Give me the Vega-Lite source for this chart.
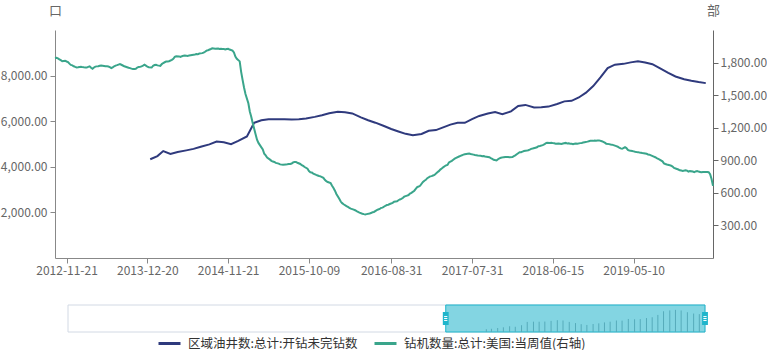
{
"$schema": "https://vega.github.io/schema/vega-lite/v6.json",
"padding": {"left": 0, "top": 4, "right": 0, "bottom": 0},
"config": {"view": {"stroke": null}, "font": "Noto Sans CJK SC"},
"spacing": 28,
"datasets": {
"slider": [{"part": "range", "start": 0, "end": 100}, {"part": "window", "start": 59.3, "end": 100}],
"main": [
{"date":"2012-09-28","rigs":1842},{"date":"2012-10-05","rigs":1845},{"date":"2012-10-12","rigs":1838},{"date":"2012-10-19","rigs":1830},{"date":"2012-10-26","rigs":1822},{"date":"2012-11-02","rigs":1812},{"date":"2012-11-09","rigs":1815},{"date":"2012-11-16","rigs":1817},{"date":"2012-11-21","rigs":1810},{"date":"2012-11-30","rigs":1805},{"date":"2012-12-07","rigs":1790},{"date":"2012-12-14","rigs":1778},{"date":"2012-12-21","rigs":1774},{"date":"2012-12-28","rigs":1766},
{"date":"2013-01-04","rigs":1760},{"date":"2013-01-11","rigs":1755},{"date":"2013-01-18","rigs":1757},{"date":"2013-01-25","rigs":1760},{"date":"2013-02-01","rigs":1762},{"date":"2013-02-08","rigs":1758},{"date":"2013-02-15","rigs":1756},{"date":"2013-02-22","rigs":1755},{"date":"2013-03-01","rigs":1754},{"date":"2013-03-08","rigs":1760},{"date":"2013-03-15","rigs":1765},{"date":"2013-03-22","rigs":1752},{"date":"2013-03-29","rigs":1743},{"date":"2013-04-05","rigs":1755},{"date":"2013-04-12","rigs":1763},{"date":"2013-04-19","rigs":1765},{"date":"2013-04-26","rigs":1766},{"date":"2013-05-03","rigs":1770},{"date":"2013-05-10","rigs":1772},{"date":"2013-05-17","rigs":1771},{"date":"2013-05-24","rigs":1769},{"date":"2013-05-31","rigs":1766},{"date":"2013-06-07","rigs":1765},{"date":"2013-06-14","rigs":1764},{"date":"2013-06-21","rigs":1758},{"date":"2013-06-28","rigs":1750},{"date":"2013-07-05","rigs":1756},{"date":"2013-07-12","rigs":1766},{"date":"2013-07-19","rigs":1772},{"date":"2013-07-26","rigs":1776},{"date":"2013-08-02","rigs":1781},{"date":"2013-08-09","rigs":1786},{"date":"2013-08-16","rigs":1780},{"date":"2013-08-23","rigs":1773},{"date":"2013-08-30","rigs":1766},{"date":"2013-09-06","rigs":1762},{"date":"2013-09-13","rigs":1757},{"date":"2013-09-20","rigs":1752},{"date":"2013-09-27","rigs":1749},{"date":"2013-10-04","rigs":1744},{"date":"2013-10-11","rigs":1741},{"date":"2013-10-18","rigs":1740},{"date":"2013-10-25","rigs":1743},{"date":"2013-11-01","rigs":1754},{"date":"2013-11-08","rigs":1760},{"date":"2013-11-15","rigs":1762},{"date":"2013-11-22","rigs":1765},{"date":"2013-11-29","rigs":1772},{"date":"2013-12-06","rigs":1780},{"date":"2013-12-13","rigs":1772},{"date":"2013-12-20","rigs":1762},{"date":"2013-12-27","rigs":1757},{"date":"2013-12-31","duc":4330},
{"date":"2014-01-03","rigs":1754},{"date":"2014-01-10","rigs":1771},{"date":"2014-01-17","rigs":1777},{"date":"2014-01-24","rigs":1780},{"date":"2014-01-31","rigs":1774,"duc":4470},{"date":"2014-02-07","rigs":1772},{"date":"2014-02-14","rigs":1769},{"date":"2014-02-21","rigs":1786},{"date":"2014-02-28","rigs":1796,"duc":4690},{"date":"2014-03-07","rigs":1803},{"date":"2014-03-14","rigs":1809},{"date":"2014-03-21","rigs":1809},{"date":"2014-03-28","rigs":1812},{"date":"2014-03-31","duc":4560},{"date":"2014-04-04","rigs":1825},{"date":"2014-04-11","rigs":1835},{"date":"2014-04-18","rigs":1852},{"date":"2014-04-25","rigs":1858},{"date":"2014-04-30","duc":4650},{"date":"2014-05-02","rigs":1857},{"date":"2014-05-09","rigs":1852},{"date":"2014-05-16","rigs":1859},{"date":"2014-05-23","rigs":1862},{"date":"2014-05-30","rigs":1864},{"date":"2014-05-31","duc":4720},{"date":"2014-06-06","rigs":1861},{"date":"2014-06-13","rigs":1866},{"date":"2014-06-20","rigs":1868},{"date":"2014-06-27","rigs":1870},{"date":"2014-06-30","duc":4785},{"date":"2014-07-04","rigs":1874},{"date":"2014-07-11","rigs":1878},{"date":"2014-07-18","rigs":1876},{"date":"2014-07-25","rigs":1883},{"date":"2014-07-31","duc":4880},{"date":"2014-08-01","rigs":1887},{"date":"2014-08-08","rigs":1891},{"date":"2014-08-15","rigs":1900},{"date":"2014-08-22","rigs":1910},{"date":"2014-08-29","rigs":1914},{"date":"2014-08-31","duc":4985},{"date":"2014-09-05","rigs":1925},{"date":"2014-09-12","rigs":1931},{"date":"2014-09-19","rigs":1930},{"date":"2014-09-26","rigs":1928},{"date":"2014-09-30","duc":5105},{"date":"2014-10-03","rigs":1930},{"date":"2014-10-10","rigs":1925},{"date":"2014-10-17","rigs":1927},{"date":"2014-10-24","rigs":1925},{"date":"2014-10-31","rigs":1924,"duc":5080},{"date":"2014-11-07","rigs":1920},{"date":"2014-11-14","rigs":1925},{"date":"2014-11-21","rigs":1927},{"date":"2014-11-28","rigs":1920},{"date":"2014-11-30","duc":4990},{"date":"2014-12-05","rigs":1910},{"date":"2014-12-12","rigs":1893},{"date":"2014-12-19","rigs":1855},{"date":"2014-12-26","rigs":1835},{"date":"2014-12-31","duc":5134},
{"date":"2015-01-02","rigs":1811},{"date":"2015-01-09","rigs":1715},{"date":"2015-01-16","rigs":1640},{"date":"2015-01-23","rigs":1570},{"date":"2015-01-30","rigs":1510},{"date":"2015-01-31","duc":5330},{"date":"2015-02-06","rigs":1425},{"date":"2015-02-13","rigs":1350},{"date":"2015-02-20","rigs":1300},{"date":"2015-02-27","rigs":1244},{"date":"2015-02-28","duc":5930},{"date":"2015-03-06","rigs":1140},{"date":"2015-03-13","rigs":1090},{"date":"2015-03-20","rigs":1060},{"date":"2015-03-27","rigs":1040},{"date":"2015-03-31","duc":6040},{"date":"2015-04-03","rigs":1000},{"date":"2015-04-10","rigs":960},{"date":"2015-04-17","rigs":945},{"date":"2015-04-24","rigs":925},{"date":"2015-04-30","duc":6085},{"date":"2015-05-01","rigs":906},{"date":"2015-05-08","rigs":895},{"date":"2015-05-15","rigs":888},{"date":"2015-05-22","rigs":885},{"date":"2015-05-29","rigs":876},{"date":"2015-05-31","duc":6090},{"date":"2015-06-05","rigs":869},{"date":"2015-06-12","rigs":862},{"date":"2015-06-19","rigs":860},{"date":"2015-06-26","rigs":859},{"date":"2015-06-30","duc":6090},{"date":"2015-07-03","rigs":862},{"date":"2015-07-10","rigs":863},{"date":"2015-07-17","rigs":866},{"date":"2015-07-24","rigs":866},{"date":"2015-07-31","rigs":870,"duc":6078},{"date":"2015-08-07","rigs":880},{"date":"2015-08-14","rigs":885},{"date":"2015-08-21","rigs":885},{"date":"2015-08-28","rigs":877},{"date":"2015-08-31","duc":6085},{"date":"2015-09-04","rigs":866},{"date":"2015-09-11","rigs":855},{"date":"2015-09-18","rigs":848},{"date":"2015-09-25","rigs":838},{"date":"2015-09-30","duc":6115},{"date":"2015-10-02","rigs":822},{"date":"2015-10-09","rigs":800},{"date":"2015-10-16","rigs":790},{"date":"2015-10-23","rigs":787},{"date":"2015-10-30","rigs":778},{"date":"2015-10-31","duc":6190},{"date":"2015-11-06","rigs":765},{"date":"2015-11-13","rigs":760},{"date":"2015-11-20","rigs":755},{"date":"2015-11-27","rigs":752},{"date":"2015-11-30","duc":6260},{"date":"2015-12-04","rigs":738},{"date":"2015-12-11","rigs":720},{"date":"2015-12-18","rigs":708},{"date":"2015-12-25","rigs":700},{"date":"2015-12-31","duc":6350},
{"date":"2016-01-01","rigs":690},{"date":"2016-01-08","rigs":665},{"date":"2016-01-15","rigs":645},{"date":"2016-01-22","rigs":620},{"date":"2016-01-29","rigs":590},{"date":"2016-01-31","duc":6410},{"date":"2016-02-05","rigs":545},{"date":"2016-02-12","rigs":520},{"date":"2016-02-19","rigs":505},{"date":"2016-02-26","rigs":495},{"date":"2016-02-29","duc":6390},{"date":"2016-03-04","rigs":478},{"date":"2016-03-11","rigs":470},{"date":"2016-03-18","rigs":462},{"date":"2016-03-25","rigs":455},{"date":"2016-03-31","duc":6340},{"date":"2016-04-01","rigs":446},{"date":"2016-04-08","rigs":440},{"date":"2016-04-15","rigs":432},{"date":"2016-04-22","rigs":425},{"date":"2016-04-29","rigs":418},{"date":"2016-04-30","duc":6170},{"date":"2016-05-06","rigs":408},{"date":"2016-05-13","rigs":404},{"date":"2016-05-20","rigs":401},{"date":"2016-05-27","rigs":404},{"date":"2016-05-31","duc":6040},{"date":"2016-06-03","rigs":410},{"date":"2016-06-10","rigs":414},{"date":"2016-06-17","rigs":421},{"date":"2016-06-24","rigs":424},{"date":"2016-06-30","duc":5935},{"date":"2016-07-01","rigs":440},{"date":"2016-07-08","rigs":447},{"date":"2016-07-15","rigs":452},{"date":"2016-07-22","rigs":462},{"date":"2016-07-29","rigs":464},{"date":"2016-07-31","duc":5790},{"date":"2016-08-05","rigs":481},{"date":"2016-08-12","rigs":489},{"date":"2016-08-19","rigs":491},{"date":"2016-08-26","rigs":497},{"date":"2016-08-31","duc":5660},{"date":"2016-09-02","rigs":508},{"date":"2016-09-09","rigs":518},{"date":"2016-09-16","rigs":520},{"date":"2016-09-23","rigs":522},{"date":"2016-09-30","rigs":532,"duc":5550},{"date":"2016-10-07","rigs":539},{"date":"2016-10-14","rigs":544},{"date":"2016-10-21","rigs":553},{"date":"2016-10-28","rigs":565},{"date":"2016-10-31","duc":5445},{"date":"2016-11-04","rigs":575},{"date":"2016-11-11","rigs":580},{"date":"2016-11-18","rigs":593},{"date":"2016-11-25","rigs":600},{"date":"2016-11-30","duc":5385},{"date":"2016-12-02","rigs":620},{"date":"2016-12-09","rigs":637},{"date":"2016-12-16","rigs":653},{"date":"2016-12-23","rigs":658},{"date":"2016-12-30","rigs":665},{"date":"2016-12-31","duc":5440},
{"date":"2017-01-06","rigs":700},{"date":"2017-01-13","rigs":712},{"date":"2017-01-20","rigs":720},{"date":"2017-01-27","rigs":735},{"date":"2017-01-31","duc":5580},{"date":"2017-02-03","rigs":752},{"date":"2017-02-10","rigs":754},{"date":"2017-02-17","rigs":760},{"date":"2017-02-24","rigs":765},{"date":"2017-02-28","duc":5610},{"date":"2017-03-03","rigs":789},{"date":"2017-03-10","rigs":800},{"date":"2017-03-17","rigs":814},{"date":"2017-03-24","rigs":824},{"date":"2017-03-31","rigs":835,"duc":5730},{"date":"2017-04-07","rigs":845},{"date":"2017-04-14","rigs":853},{"date":"2017-04-21","rigs":857},{"date":"2017-04-28","rigs":880},{"date":"2017-04-30","duc":5850},{"date":"2017-05-05","rigs":895},{"date":"2017-05-12","rigs":905},{"date":"2017-05-19","rigs":915},{"date":"2017-05-26","rigs":922},{"date":"2017-05-31","duc":5930},{"date":"2017-06-02","rigs":935},{"date":"2017-06-09","rigs":941},{"date":"2017-06-16","rigs":946},{"date":"2017-06-23","rigs":952},{"date":"2017-06-30","rigs":956,"duc":5930},{"date":"2017-07-07","rigs":958},{"date":"2017-07-14","rigs":960},{"date":"2017-07-21","rigs":962},{"date":"2017-07-28","rigs":958},{"date":"2017-07-31","duc":6090},{"date":"2017-08-04","rigs":952},{"date":"2017-08-11","rigs":949},{"date":"2017-08-18","rigs":947},{"date":"2017-08-25","rigs":945},{"date":"2017-08-31","duc":6230},{"date":"2017-09-01","rigs":942},{"date":"2017-09-08","rigs":938},{"date":"2017-09-15","rigs":940},{"date":"2017-09-22","rigs":935},{"date":"2017-09-29","rigs":933},{"date":"2017-09-30","duc":6340},{"date":"2017-10-06","rigs":928},{"date":"2017-10-13","rigs":920},{"date":"2017-10-20","rigs":913},{"date":"2017-10-27","rigs":905},{"date":"2017-10-31","duc":6400},{"date":"2017-11-03","rigs":898},{"date":"2017-11-10","rigs":910},{"date":"2017-11-17","rigs":918},{"date":"2017-11-24","rigs":923},{"date":"2017-11-30","duc":6310},{"date":"2017-12-01","rigs":929},{"date":"2017-12-08","rigs":931},{"date":"2017-12-15","rigs":930},{"date":"2017-12-22","rigs":931},{"date":"2017-12-29","rigs":929},{"date":"2017-12-31","duc":6430},
{"date":"2018-01-05","rigs":930},{"date":"2018-01-12","rigs":939},{"date":"2018-01-19","rigs":945},{"date":"2018-01-26","rigs":955},{"date":"2018-01-31","duc":6670},{"date":"2018-02-02","rigs":975},{"date":"2018-02-09","rigs":975},{"date":"2018-02-16","rigs":980},{"date":"2018-02-23","rigs":985},{"date":"2018-02-28","duc":6715},{"date":"2018-03-02","rigs":990},{"date":"2018-03-09","rigs":993},{"date":"2018-03-16","rigs":998},{"date":"2018-03-23","rigs":1005},{"date":"2018-03-30","rigs":1008},{"date":"2018-03-31","duc":6605},{"date":"2018-04-06","rigs":1016},{"date":"2018-04-13","rigs":1020},{"date":"2018-04-20","rigs":1029},{"date":"2018-04-27","rigs":1032},{"date":"2018-04-30","duc":6615},{"date":"2018-05-04","rigs":1040},{"date":"2018-05-11","rigs":1046},{"date":"2018-05-18","rigs":1056},{"date":"2018-05-25","rigs":1062},{"date":"2018-05-31","duc":6640},{"date":"2018-06-01","rigs":1060},{"date":"2018-06-08","rigs":1062},{"date":"2018-06-15","rigs":1058},{"date":"2018-06-22","rigs":1056},{"date":"2018-06-29","rigs":1052},{"date":"2018-06-30","duc":6755},{"date":"2018-07-06","rigs":1054},{"date":"2018-07-13","rigs":1053},{"date":"2018-07-20","rigs":1050},{"date":"2018-07-27","rigs":1055},{"date":"2018-07-31","duc":6870},{"date":"2018-08-03","rigs":1060},{"date":"2018-08-10","rigs":1054},{"date":"2018-08-17","rigs":1057},{"date":"2018-08-24","rigs":1053},{"date":"2018-08-31","rigs":1052,"duc":6895},{"date":"2018-09-07","rigs":1048},{"date":"2018-09-14","rigs":1052},{"date":"2018-09-21","rigs":1055},{"date":"2018-09-28","rigs":1053},{"date":"2018-09-30","duc":7040},{"date":"2018-10-05","rigs":1058},{"date":"2018-10-12","rigs":1060},{"date":"2018-10-19","rigs":1063},{"date":"2018-10-26","rigs":1066},{"date":"2018-10-31","duc":7250},{"date":"2018-11-02","rigs":1072},{"date":"2018-11-09","rigs":1076},{"date":"2018-11-16","rigs":1079},{"date":"2018-11-23","rigs":1080},{"date":"2018-11-30","rigs":1079,"duc":7540},{"date":"2018-12-07","rigs":1082},{"date":"2018-12-14","rigs":1080},{"date":"2018-12-21","rigs":1082},{"date":"2018-12-28","rigs":1083},{"date":"2018-12-31","duc":7920},
{"date":"2019-01-04","rigs":1075},{"date":"2019-01-11","rigs":1070},{"date":"2019-01-18","rigs":1062},{"date":"2019-01-25","rigs":1053},{"date":"2019-01-31","duc":8330},{"date":"2019-02-01","rigs":1049},{"date":"2019-02-08","rigs":1045},{"date":"2019-02-15","rigs":1044},{"date":"2019-02-22","rigs":1040},{"date":"2019-02-28","duc":8480},{"date":"2019-03-01","rigs":1030},{"date":"2019-03-08","rigs":1025},{"date":"2019-03-15","rigs":1017},{"date":"2019-03-22","rigs":1010},{"date":"2019-03-29","rigs":1006},{"date":"2019-03-31","duc":8515},{"date":"2019-04-05","rigs":1020},{"date":"2019-04-12","rigs":1012},{"date":"2019-04-19","rigs":995},{"date":"2019-04-26","rigs":990},{"date":"2019-04-30","duc":8580},{"date":"2019-05-03","rigs":985},{"date":"2019-05-10","rigs":982},{"date":"2019-05-17","rigs":978},{"date":"2019-05-24","rigs":976},{"date":"2019-05-31","rigs":975,"duc":8625},{"date":"2019-06-07","rigs":972},{"date":"2019-06-14","rigs":970},{"date":"2019-06-21","rigs":967},{"date":"2019-06-28","rigs":965},{"date":"2019-06-30","duc":8570},{"date":"2019-07-05","rigs":960},{"date":"2019-07-12","rigs":954},{"date":"2019-07-19","rigs":952},{"date":"2019-07-26","rigs":946},{"date":"2019-07-31","duc":8500},{"date":"2019-08-02","rigs":934},{"date":"2019-08-09","rigs":928},{"date":"2019-08-16","rigs":920},{"date":"2019-08-23","rigs":914},{"date":"2019-08-30","rigs":906},{"date":"2019-08-31","duc":8290},{"date":"2019-09-06","rigs":890},{"date":"2019-09-13","rigs":872},{"date":"2019-09-20","rigs":866},{"date":"2019-09-27","rigs":861},{"date":"2019-09-30","duc":8120},{"date":"2019-10-04","rigs":855},{"date":"2019-10-11","rigs":850},{"date":"2019-10-18","rigs":842},{"date":"2019-10-25","rigs":830},{"date":"2019-10-31","duc":7960},{"date":"2019-11-01","rigs":820},{"date":"2019-11-08","rigs":815},{"date":"2019-11-15","rigs":808},{"date":"2019-11-22","rigs":805},{"date":"2019-11-29","rigs":802},{"date":"2019-11-30","duc":7840},{"date":"2019-12-06","rigs":808},{"date":"2019-12-13","rigs":805},{"date":"2019-12-20","rigs":796},{"date":"2019-12-27","rigs":800},{"date":"2019-12-31","duc":7770},
{"date":"2020-01-03","rigs":796},{"date":"2020-01-10","rigs":790},{"date":"2020-01-17","rigs":797},{"date":"2020-01-24","rigs":801},{"date":"2020-01-31","rigs":796,"duc":7715},{"date":"2020-02-07","rigs":793},{"date":"2020-02-14","rigs":790},{"date":"2020-02-21","rigs":793},{"date":"2020-02-28","rigs":792},{"date":"2020-02-29","duc":7670},{"date":"2020-03-06","rigs":792},{"date":"2020-03-13","rigs":790},{"date":"2020-03-20","rigs":772},{"date":"2020-03-27","rigs":728},{"date":"2020-04-03","rigs":664}
]
},
"vconcat": [
{
"width": 658, "height": 228,
"layer": [
{
"data": {"name": "main"},
"transform": [{"filter": "isValid(datum.duc)"}],
"mark": {"type": "line", "strokeWidth": 2},
"encoding": {
"x": {"field": "date", "type": "ordinal", "scale": {"type": "point", "padding": 0},
"axis": {"values": ["2012-11-21","2013-12-20","2014-11-21","2015-10-09","2016-08-31","2017-07-31","2018-06-15","2019-05-10"], "labelAngle": 0, "title": null, "tickSize": 5, "domainColor": "#888", "tickColor": "#888", "labelColor": "#666", "labelFontSize": 12, "labelPadding": 2, "labelOverlap": false, "grid": false}},
"y": {"field": "duc", "type": "quantitative", "scale": {"domain": [0, 10000], "nice": false},
"axis": {"values": [2000, 4000, 6000, 8000], "format": ",.2f", "title": "口", "titleAngle": 0, "titleX": 0, "titleY": -20, "titleAlign": "center", "titleBaseline": "middle", "titleFontWeight": "normal", "titleFontSize": 13, "titleColor": "#666", "grid": false, "tickSize": 5, "domainColor": "#888", "tickColor": "#888", "labelColor": "#666", "labelFontSize": 12, "labelPadding": 3}},
"color": {"datum": "区域油井数:总计:开钻未完钻数",
"scale": {"domain": ["区域油井数:总计:开钻未完钻数", "钻机数量:总计:美国:当周值(右轴)"], "range": ["#2f3a7d", "#3aa58b"]},
"legend": {"orient": "none", "legendX": 102, "legendY": 301, "direction": "horizontal", "title": null, "symbolType": "stroke", "symbolSize": 484, "symbolStrokeWidth": 3, "labelFontSize": 12.5, "labelColor": "#333", "labelLimit": 400, "columnPadding": 10, "labelOffset": 6}}
}
},
{
"data": {"name": "main"},
"transform": [{"filter": "isValid(datum.rigs)"}],
"mark": {"type": "line", "strokeWidth": 2},
"encoding": {
"x": {"field": "date", "type": "ordinal"},
"y": {"field": "rigs", "type": "quantitative", "scale": {"domain": [0, 2100], "nice": false},
"axis": {"orient": "right", "values": [300, 600, 900, 1200, 1500, 1800], "format": ",.2f", "title": "部", "titleAngle": 0, "titleX": 0, "titleY": -20, "titleAlign": "center", "titleBaseline": "middle", "titleFontWeight": "normal", "titleFontSize": 13, "titleColor": "#666", "grid": false, "tickSize": 5, "domainColor": "#666", "tickColor": "#666", "labelColor": "#666", "labelFontSize": 12, "labelPadding": 2}},
"color": {"datum": "钻机数量:总计:美国:当周值(右轴)"}
}
}
],
"resolve": {"scale": {"y": "independent"}}
},
{
"width": 658, "height": 27,
"layer": [
{
"data": {"name": "slider"},
"transform": [{"filter": "datum.part == 'range'"}],
"mark": {"type": "rect", "fill": "#ffffff", "stroke": "#d2d9e4", "strokeWidth": 1},
"encoding": {
"x": {"field": "start", "type": "quantitative", "scale": {"domain": [-2.041, 101.256], "nice": false, "zero": false}, "axis": null},
"x2": {"field": "end"}
}
},
{
"data": {"name": "slider"},
"transform": [{"filter": "datum.part == 'window'"}],
"mark": {"type": "rect", "fill": "#83d5e2", "stroke": "#1fb5cb", "strokeWidth": 1},
"encoding": {
"x": {"field": "start", "type": "quantitative", "scale": {"domain": [-2.041, 101.256], "nice": false, "zero": false}, "axis": null},
"x2": {"field": "end"}
}
},
{
"data": {"name": "main"},
"mark": {"type": "rule", "color": "#56abba", "strokeWidth": 1, "invalid": "show"},
"encoding": {
"x": {"field": "date", "type": "ordinal", "scale": {"type": "point", "padding": 0, "range": [391, 650]}, "axis": null},
"y": {"field": "duc", "type": "quantitative", "scale": {"domain": [3870, 9675], "nice": false, "zero": false}, "axis": null},
"y2": {"datum": 3870},
"opacity": {"condition": {"test": "isValid(datum.duc) && month(toDate(datum.date)) % 2 == 0", "value": 1}, "value": 0}
}
},
{
"data": {"name": "slider"},
"transform": [{"filter": "datum.part == 'window'"}, {"fold": ["start", "end"], "as": ["edge", "pos"]}],
"mark": {"type": "point", "shape": "M-0.45,-1H0.45V1H-0.45Z", "size": 169, "filled": true, "color": "#1fb5cb", "opacity": 1},
"encoding": {
"x": {"field": "pos", "type": "quantitative", "scale": {"domain": [-2.041, 101.256], "nice": false, "zero": false}, "axis": null}
}
},
{
"data": {"name": "slider"},
"transform": [{"filter": "datum.part == 'window'"}, {"fold": ["start", "end"], "as": ["edge", "pos"]}],
"mark": {"type": "point", "shape": "M-0.25,-0.3H0.25M-0.25,0H0.25M-0.25,0.3H0.25", "size": 169, "filled": false, "stroke": "#ffffff", "strokeWidth": 1, "opacity": 1},
"encoding": {
"x": {"field": "pos", "type": "quantitative", "scale": {"domain": [-2.041, 101.256], "nice": false, "zero": false}, "axis": null}
}
}
],
"resolve": {"scale": {"x": "independent", "y": "independent"}}
}
]
}
